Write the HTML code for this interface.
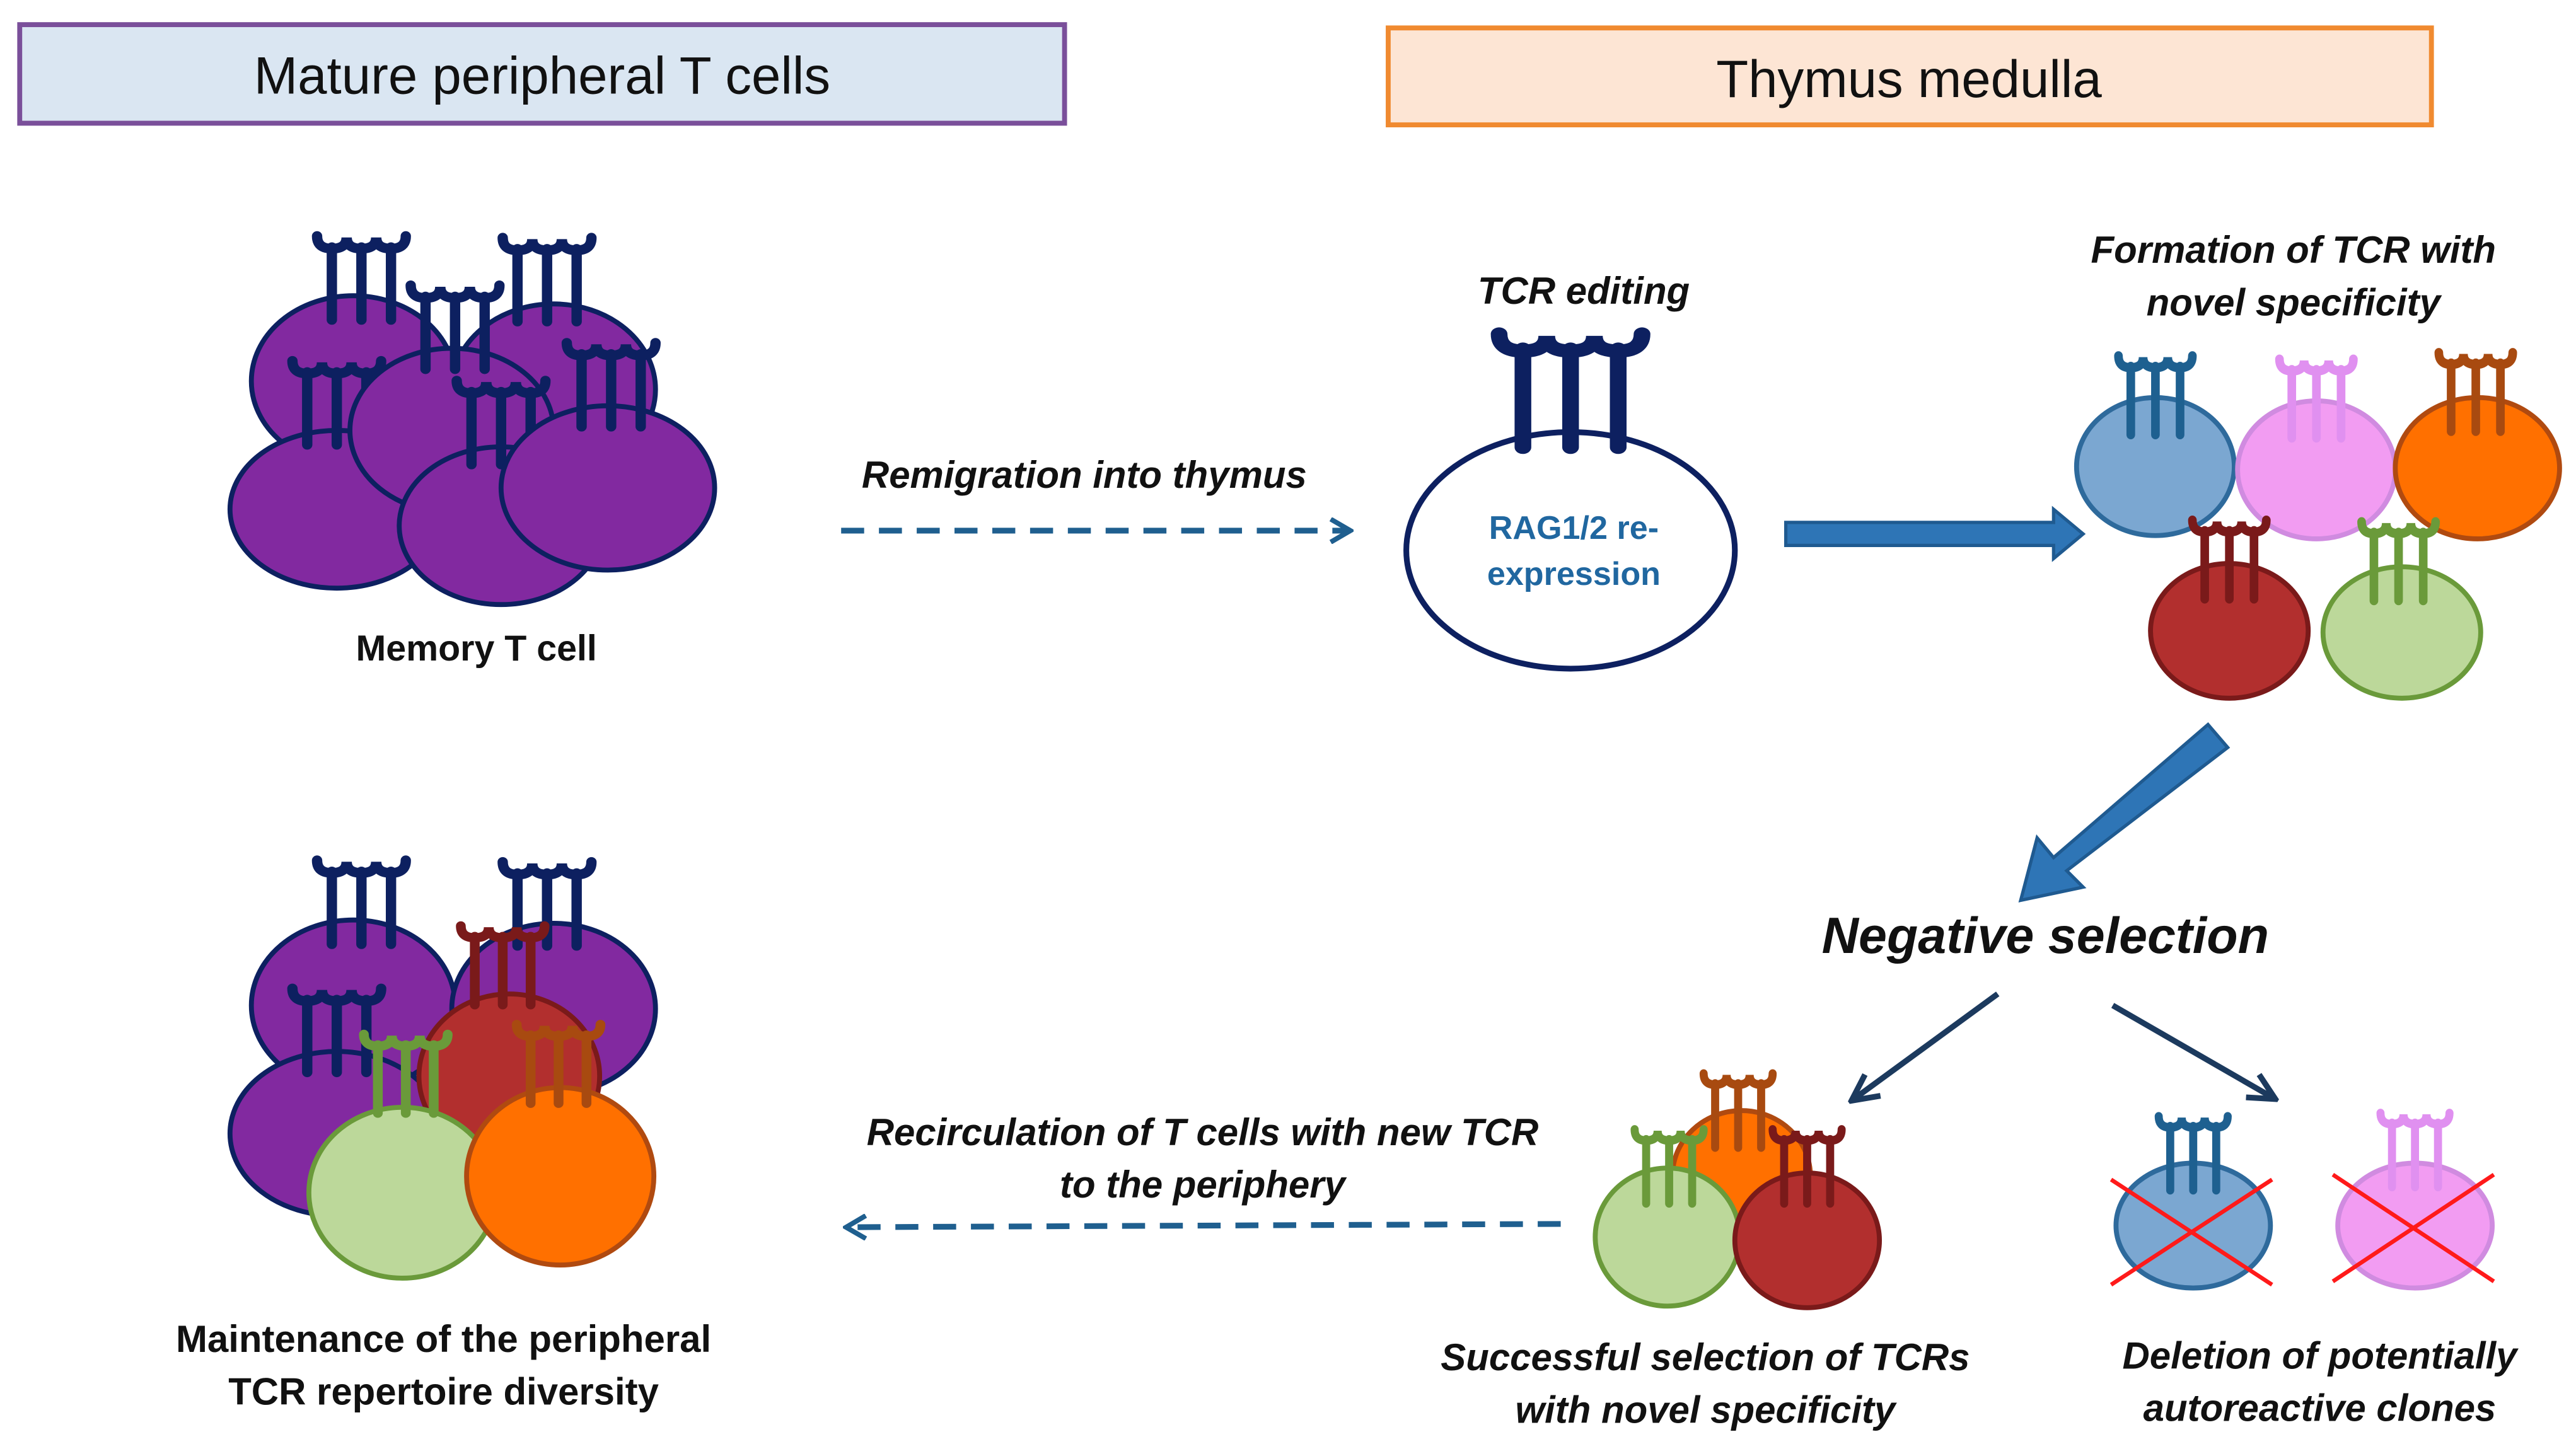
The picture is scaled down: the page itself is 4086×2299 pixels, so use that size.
<!DOCTYPE html>
<html><head><meta charset="utf-8"><style>
html,body{margin:0;padding:0;background:#fff;}
svg{display:block;}
text{font-family:"Liberation Sans",sans-serif;}
</style></head><body>
<svg width="4086" height="2299" viewBox="0 0 1568 882" preserveAspectRatio="none" xmlns="http://www.w3.org/2000/svg">
<defs>
<g id="rc" fill="none" stroke="currentColor" stroke-linecap="round">
<path d="M-30,2 Q-30,11 -20,11 Q-10,11 -10,3 Q-10,11 0,11 Q10,11 10,3 Q10,11 20,11 Q30,11 30,2" stroke-width="7"/>
<line x1="-20" y1="10" x2="-20" y2="62" stroke-width="7"/>
<line x1="0" y1="10" x2="0" y2="62" stroke-width="7"/>
<line x1="20" y1="10" x2="20" y2="62" stroke-width="7"/>
</g>
<marker id="ah" markerWidth="16" markerHeight="16" refX="14" refY="8" orient="auto" markerUnits="userSpaceOnUse"><path d="M2,1 L14,8 L2,15" fill="none" stroke="#1f5f8f" stroke-width="3"/></marker>
<marker id="ah2" markerWidth="20" markerHeight="20" refX="18" refY="10" orient="auto" markerUnits="userSpaceOnUse"><path d="M2,2 L18,10 L2,18" fill="none" stroke="#1c3a5e" stroke-width="3.5"/></marker>
</defs>

<rect x="12" y="15" width="636" height="60" fill="#dae6f2" stroke="#7a4f9a" stroke-width="3"/>
<text x="330" y="57" font-size="32" text-anchor="middle" fill="#111">Mature peripheral T cells</text>
<rect x="845" y="17" width="635" height="59" fill="#fde5d4" stroke="#f08a30" stroke-width="3"/>
<text x="1162" y="59" font-size="32" text-anchor="middle" fill="#111">Thymus medulla</text>

<!-- memory cluster -->
<g stroke="#0d2060" stroke-width="3" fill="#8229a0">
<ellipse cx="215" cy="232" rx="62" ry="52"/>
<use href="#rc" transform="translate(220,142) scale(0.9,0.85)" color="#0d2060"/>
<ellipse cx="337" cy="237" rx="62" ry="52"/>
<use href="#rc" transform="translate(333,143) scale(0.9,0.85)" color="#0d2060"/>
<ellipse cx="205" cy="310" rx="65" ry="48"/>
<use href="#rc" transform="translate(205,218) scale(0.9,0.85)" color="#0d2060"/>
<ellipse cx="275" cy="262" rx="62" ry="50"/>
<use href="#rc" transform="translate(277,172) scale(0.9,0.85)" color="#0d2060"/>
<ellipse cx="305" cy="320" rx="62" ry="48"/>
<use href="#rc" transform="translate(305,230) scale(0.9,0.85)" color="#0d2060"/>
<ellipse cx="370" cy="297" rx="65" ry="50"/>
<use href="#rc" transform="translate(372,207) scale(0.9,0.85)" color="#0d2060"/>
</g>
<text x="290" y="402" font-size="22" font-weight="bold" text-anchor="middle" fill="#111">Memory T cell</text>

<text x="660" y="297" font-size="23" font-weight="bold" font-style="italic" text-anchor="middle" fill="#111">Remigration into thymus</text>
<line x1="512" y1="323" x2="822" y2="323" stroke="#1f5f8f" stroke-width="3.5" stroke-dasharray="14,9" marker-end="url(#ah)"/>

<text x="964" y="185" font-size="23" font-weight="bold" font-style="italic" text-anchor="middle" fill="#111">TCR editing</text>
<ellipse cx="956" cy="335" rx="100" ry="72" fill="#fff" stroke="#0d2060" stroke-width="3.5"/>
<use href="#rc" transform="translate(956,201) scale(1.45,1.15)" color="#0d2060"/>
<text x="958" y="328" font-size="20" font-weight="bold" text-anchor="middle" fill="#2067a0">RAG1/2 re-</text>
<text x="958" y="356" font-size="20" font-weight="bold" text-anchor="middle" fill="#2067a0">expression</text>

<polygon points="1087,318 1250,318 1250,310 1268,325 1250,340 1250,332 1087,332" fill="#2e75b6" stroke="#1f5a90" stroke-width="2"/>

<text x="1396" y="160" font-size="23" font-weight="bold" font-style="italic" text-anchor="middle" fill="#111">Formation of TCR with</text>
<text x="1396" y="192" font-size="23" font-weight="bold" font-style="italic" text-anchor="middle" fill="#111">novel specificity</text>

<ellipse cx="1312" cy="284" rx="48" ry="42" fill="#7ba7d1" stroke="#2e6a9c" stroke-width="3"/>
<use href="#rc" transform="translate(1312,215) scale(0.75,0.8)" color="#1e6090"/>
<ellipse cx="1410" cy="286" rx="48" ry="42" fill="#f29cf2" stroke="#d08be0" stroke-width="3"/>
<use href="#rc" transform="translate(1410,217) scale(0.75,0.8)" color="#e090f0"/>
<ellipse cx="1508" cy="285" rx="50" ry="43" fill="#ff7000" stroke="#b04a10" stroke-width="3"/>
<use href="#rc" transform="translate(1507,213) scale(0.75,0.8)" color="#a84a10"/>
<ellipse cx="1357" cy="384" rx="48" ry="41" fill="#b22f2e" stroke="#7a1a1a" stroke-width="3"/>
<use href="#rc" transform="translate(1357,315) scale(0.75,0.8)" color="#7a1a1a"/>
<ellipse cx="1462" cy="385" rx="48" ry="40" fill="#bcd89a" stroke="#6a9a3a" stroke-width="3"/>
<use href="#rc" transform="translate(1460,316) scale(0.75,0.8)" color="#6a9a3a"/>

<polygon points="1356,455 1344,441 1250,522 1240,510 1230,548 1268,540 1258,530" fill="#2e75b6" stroke="#1f5a90" stroke-width="2"/>

<text x="1245" y="580" font-size="31" font-weight="bold" font-style="italic" text-anchor="middle" fill="#111">Negative selection</text>
<line x1="1216" y1="605" x2="1127" y2="670" stroke="#1c3a5e" stroke-width="3.5" marker-end="url(#ah2)"/>
<line x1="1286" y1="612" x2="1385" y2="669" stroke="#1c3a5e" stroke-width="3.5" marker-end="url(#ah2)"/>

<!-- successful -->
<ellipse cx="1060" cy="716" rx="42" ry="40" fill="#ff7000" stroke="#b04a10" stroke-width="3"/>
<use href="#rc" transform="translate(1058,652) scale(0.7,0.75)" color="#a84a10"/>
<ellipse cx="1015" cy="753" rx="44" ry="42" fill="#bcd89a" stroke="#6a9a3a" stroke-width="3"/>
<use href="#rc" transform="translate(1016,686) scale(0.7,0.75)" color="#6a9a3a"/>
<ellipse cx="1100" cy="755" rx="44" ry="41" fill="#b22f2e" stroke="#7a1a1a" stroke-width="3"/>
<use href="#rc" transform="translate(1100,686) scale(0.7,0.75)" color="#7a1a1a"/>
<text x="1038" y="834" font-size="23" font-weight="bold" font-style="italic" text-anchor="middle" fill="#111">Successful selection of TCRs</text>
<text x="1038" y="866" font-size="23" font-weight="bold" font-style="italic" text-anchor="middle" fill="#111">with novel specificity</text>

<!-- deleted -->
<ellipse cx="1335" cy="746" rx="47" ry="38" fill="#7ba7d1" stroke="#2e6a9c" stroke-width="3"/>
<use href="#rc" transform="translate(1335,678) scale(0.7,0.75)" color="#1e6090"/>
<ellipse cx="1470" cy="746" rx="47" ry="38" fill="#f29cf2" stroke="#d08be0" stroke-width="3"/>
<use href="#rc" transform="translate(1470,676) scale(0.7,0.75)" color="#e090f0"/>
<g stroke="#ff1a1a" stroke-width="2.5">
<line x1="1285" y1="718" x2="1383" y2="782"/><line x1="1285" y1="782" x2="1383" y2="718"/>
<line x1="1420" y1="715" x2="1518" y2="780"/><line x1="1420" y1="780" x2="1518" y2="715"/>
</g>
<text x="1412" y="833" font-size="23" font-weight="bold" font-style="italic" text-anchor="middle" fill="#111">Deletion of potentially</text>
<text x="1412" y="865" font-size="23" font-weight="bold" font-style="italic" text-anchor="middle" fill="#111">autoreactive clones</text>

<text x="732" y="697" font-size="23" font-weight="bold" font-style="italic" text-anchor="middle" fill="#111">Recirculation of T cells with new TCR</text>
<text x="732" y="729" font-size="23" font-weight="bold" font-style="italic" text-anchor="middle" fill="#111">to the periphery</text>
<line x1="950" y1="745" x2="515" y2="747" stroke="#1f5f8f" stroke-width="3.5" stroke-dasharray="14,9" marker-end="url(#ah)"/>

<!-- bottom-left cluster -->
<g stroke-width="3">
<ellipse cx="215" cy="612" rx="62" ry="52" fill="#8229a0" stroke="#0d2060"/>
<use href="#rc" transform="translate(220,522) scale(0.9,0.85)" color="#0d2060"/>
<ellipse cx="337" cy="614" rx="62" ry="52" fill="#8229a0" stroke="#0d2060"/>
<use href="#rc" transform="translate(333,523) scale(0.9,0.85)" color="#0d2060"/>
<ellipse cx="205" cy="690" rx="65" ry="50" fill="#8229a0" stroke="#0d2060"/>
<use href="#rc" transform="translate(205,600) scale(0.9,0.85)" color="#0d2060"/>
<ellipse cx="310" cy="655" rx="55" ry="50" fill="#b22f2e" stroke="#7a1a1a"/>
<use href="#rc" transform="translate(306,562) scale(0.85,0.8)" color="#7a1a1a"/>
<ellipse cx="245" cy="726" rx="57" ry="52" fill="#bcd89a" stroke="#6a9a3a"/>
<use href="#rc" transform="translate(247,628) scale(0.85,0.8)" color="#6a9a3a"/>
<ellipse cx="341" cy="716" rx="57" ry="54" fill="#ff7000" stroke="#b04a10"/>
<use href="#rc" transform="translate(340,622) scale(0.85,0.8)" color="#a84a10"/>
</g>
<text x="270" y="823" font-size="23" font-weight="bold" text-anchor="middle" fill="#111">Maintenance of the peripheral</text>
<text x="270" y="855" font-size="23" font-weight="bold" text-anchor="middle" fill="#111">TCR repertoire diversity</text>
</svg>
</body></html>
